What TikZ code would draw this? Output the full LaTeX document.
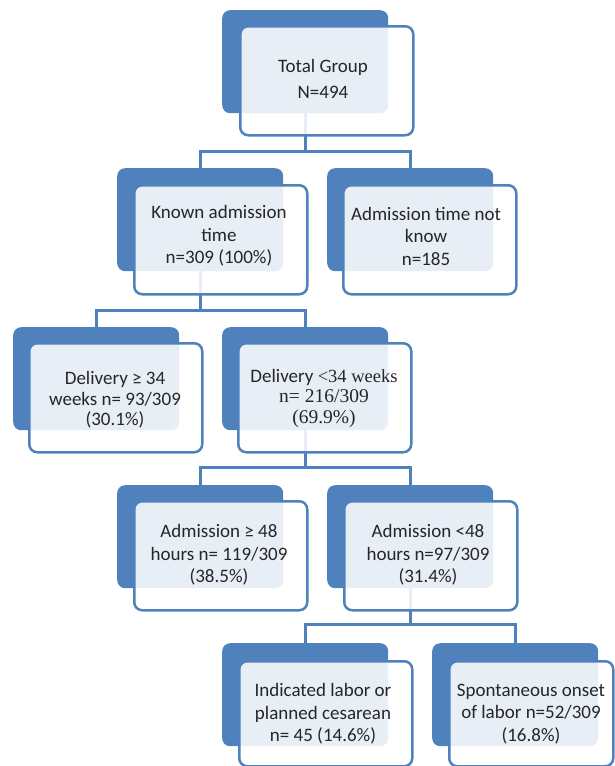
\documentclass[tikz,border=0pt]{standalone}
\usepackage{fontspec}
\setmainfont{Carlito}
\newfontfamily\tnr{Liberation Serif}
\definecolor{myblue}{HTML}{4F81BD}
\definecolor{txtgray}{HTML}{262626}
\tikzset{
  backbox/.style={rectangle, rounded corners=8pt, fill=myblue, draw=none, anchor=north west, inner sep=0pt, minimum width=166pt, minimum height=103pt},
  frontbox/.style={rectangle, rounded corners=8pt, draw=myblue, line width=2.5pt, fill=white, fill opacity=0.87, anchor=north west, inner sep=0pt, minimum width=173pt, minimum height=109pt},
  txt/.style={text=txtgray, align=center, inner sep=0pt, font=\fontsize{19}{22.5}\selectfont},
  conn/.style={draw=myblue, line width=3pt},
}
\begin{document}
\begin{tikzpicture}[x=1pt,y=-1pt]
\useasboundingbox (0,0) rectangle (614,766);
% back boxes
\node[backbox] (b1) at (222,10) {};
\node[backbox] (b2) at (117,168) {};
\node[backbox] (b3) at (327,168) {};
\node[backbox] (b4) at (13,327) {};
\node[backbox] (b5) at (222,327) {};
\node[backbox] (b6) at (117,485) {};
\node[backbox] (b7) at (327,485) {};
\node[backbox] (b8) at (222,643) {};
\node[backbox] (b9) at (432,643) {};
% connectors
\coordinate (j1) at (b1.south |- 0,151);
\draw[conn] (b1.south) -- (j1) -| (b2.north);
\draw[conn] (j1) -| (b3.north);
\coordinate (j2) at (b2.south |- 0,310);
\draw[conn] (b2.south) -- (j2) -| (b4.north);
\draw[conn] (j2) -| (b5.north);
\coordinate (j3) at (b5.south |- 0,467);
\draw[conn] (b5.south) -- (j3) -| (b6.north);
\draw[conn] (j3) -| (b7.north);
\coordinate (j4) at (b7.south |- 0,624);
\draw[conn] (b7.south) -- (j4) -| (b8.north);
\draw[conn] (j4) -| (b9.north);
% front boxes
\node[frontbox] (f1) at (239,25) {};
\node[frontbox] (f2) at (133,184) {};
\node[frontbox] (f3) at (342,184) {};
\node[frontbox] (f4) at (28,342) {};
\node[frontbox] (f5) at (237,342) {};
\node[frontbox] (f6) at (133,500) {};
\node[frontbox] (f7) at (343,500) {};
\node[frontbox, minimum height=105pt] (f8) at (238,660) {};
\node[frontbox, minimum height=105pt, minimum width=164pt] (f9) at (448,660) {};
% texts
\node[txt] (t1) at (323,79) {Total Group\\[4pt]N=494};
\node[txt] (t2) at (219,236) {Known admission\\time\\n=309 (100\%)};
\node[txt] (t3) at (426,236) {Admission time not\\know\\n=185};
\node[txt, font=\fontsize{19}{20.5}\selectfont] (t4) at (115,400) {Delivery ≥ 34\\weeks n= 93/309\\(30.1\%)};
\node[txt, font=\fontsize{19}{20.5}\selectfont] (t5) at (324,398) {Delivery {\tnr\fontsize{18.5}{20.5}\selectfont <34 weeks}\\{\tnr\fontsize{19.5}{20.5}\selectfont n= 216/309}\\{\tnr\fontsize{19.5}{20.5}\selectfont (69.9\%)}};
\node[txt] (t6) at (219,555) {Admission ≥ 48\\hours n= 119/309\\(38.5\%)};
\node[txt] (t7) at (428,555) {Admission <48\\hours n=97/309\\(31.4\%)};
\node[txt] (t8) at (323,714) {Indicated labor or\\planned cesarean\\n= 45 (14.6\%)};
\node[txt] (t9) at (531,714) {Spontaneous onset\\of labor n=52/309\\(16.8\%)};
\end{tikzpicture}
\end{document}
